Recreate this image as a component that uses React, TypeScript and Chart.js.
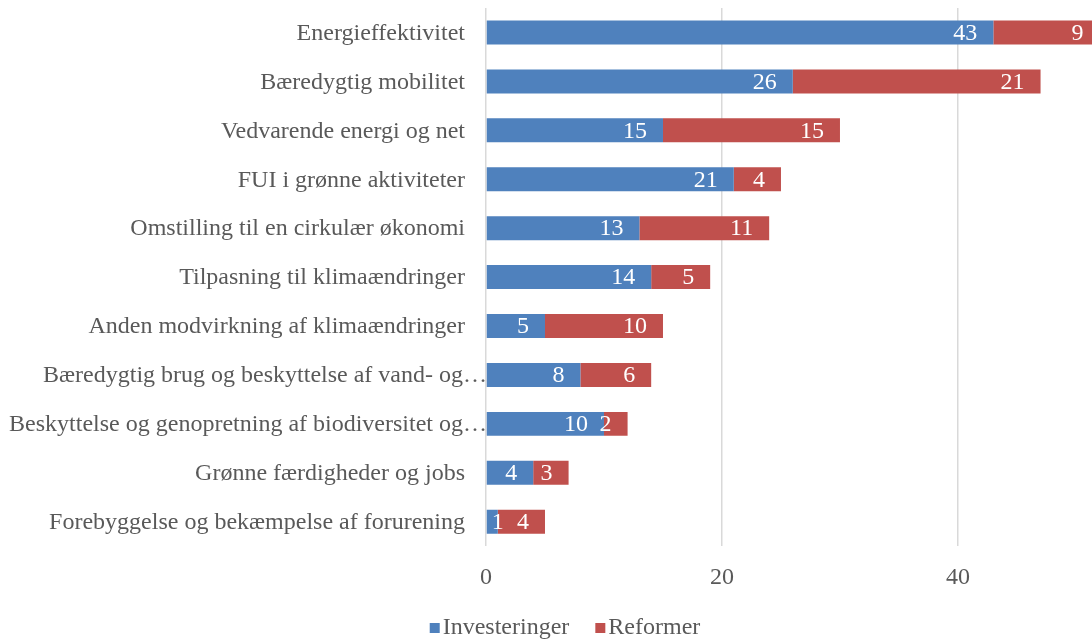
import React, { useEffect, useRef } from "react";
import { Chart, registerables } from "chart.js";

Chart.register(...registerables);

const categories = [
  "Energieffektivitet",
  "Bæredygtig mobilitet",
  "Vedvarende energi og net",
  "FUI i grønne aktiviteter",
  "Omstilling til en cirkulær økonomi",
  "Tilpasning til klimaændringer",
  "Anden modvirkning af klimaændringer",
  "Bæredygtig brug og beskyttelse af vand- og…",
  "Beskyttelse og genopretning af biodiversitet og…",
  "Grønne færdigheder og jobs",
  "Forebyggelse og bekæmpelse af forurening",
];
const investeringer = [43, 26, 15, 21, 13, 14, 5, 8, 10, 4, 1];
const reformer = [9, 21, 15, 4, 11, 5, 10, 6, 2, 3, 4];
const seriesNames = ["Investeringer", "Reformer"];
const seriesColors = ["#4F81BD", "#C0504D"];
const xTicks = [0, 20, 40];

const FONT = "'Liberation Serif', 'Times New Roman', serif";
const GRAY = "#595959";

const yLabelPlugin = {
  id: "yLabels",
  afterDraw(chart: any) {
    const ctx = chart.ctx;
    const y = chart.scales.y;
    const x = chart.scales.x;
    const axisX = x.getPixelForValue(0);
    ctx.save();
    ctx.font = `24px ${FONT}`;
    ctx.fillStyle = GRAY;
    ctx.textAlign = "right";
    ctx.textBaseline = "middle";
    categories.forEach((c, i) => {
      const py = y.getPixelForValue(i);
      const truncated = c.endsWith("…");
      ctx.fillText(c, truncated ? axisX + 1 : axisX - 21, py + 1);
    });
    ctx.restore();
  },
};

const dataLabelPlugin = {
  id: "dataLabels",
  afterDatasetsDraw(chart: any) {
    const ctx = chart.ctx;
    ctx.save();
    ctx.font = `24px ${FONT}`;
    ctx.fillStyle = "#ffffff";
    ctx.textBaseline = "middle";
    ctx.textAlign = "center";
    chart.data.datasets.forEach((ds: any, di: number) => {
      const meta = chart.getDatasetMeta(di);
      meta.data.forEach((el: any, i: number) => {
        const text = String(ds.data[i]);
        const w = ctx.measureText(text).width;
        const end = el.x;
        const start = el.base;
        let cx = end - 16 - w / 2;
        if (cx - w / 2 < start - 8) cx = end;
        ctx.fillText(text, cx, el.y + 1);
      });
    });
    ctx.restore();
  },
};

const legendPlugin = {
  id: "customLegend",
  afterDraw(chart: any) {
    const ctx = chart.ctx;
    ctx.save();
    ctx.font = `24px ${FONT}`;
    ctx.textBaseline = "middle";
    ctx.textAlign = "left";
    const box = 10;
    const gapBoxText = 3;
    const gapItems = 26;
    const widths = seriesNames.map((n) => box + gapBoxText + ctx.measureText(n).width);
    const total = widths.reduce((a, b) => a + b, 0) + gapItems * (seriesNames.length - 1);
    let x = 565 - total / 2;
    const cy = 627;
    seriesNames.forEach((n, i) => {
      ctx.fillStyle = seriesColors[i];
      ctx.fillRect(x, cy - 4, box, box);
      ctx.fillStyle = GRAY;
      ctx.fillText(n, x + box + gapBoxText, cy + 1);
      x += widths[i] + gapItems;
    });
    ctx.restore();
  },
};

export default function App() {
  const ref = useRef<HTMLCanvasElement>(null);
  useEffect(() => {
    document.body.style.margin = "0";
    const chart = new Chart(ref.current!, {
      type: "bar",
      data: {
        labels: categories,
        datasets: seriesNames.map((name, i) => ({
          label: name,
          data: i === 0 ? investeringer : reformer,
          backgroundColor: seriesColors[i],
          borderWidth: 0,
          barPercentage: 0.49,
          categoryPercentage: 1,
        })),
      },
      options: {
        indexAxis: "y",
        responsive: false,
        animation: false,
        layout: { padding: { top: 8, right: 0, left: 0, bottom: 30 } },
        scales: {
          x: {
            stacked: true,
            min: 0,
            max: 51.36,
            afterBuildTicks(scale: any) {
              scale.ticks = xTicks.map((v) => ({ value: v }));
            },
            ticks: {
              includeBounds: false,
              color: GRAY,
              font: { family: FONT, size: 24 },
              padding: 17,
            },
            grid: { color: "#d9d9d9", lineWidth: 1.5, drawTicks: false },
            border: { display: false },
          },
          y: {
            stacked: true,
            ticks: { display: false },
            grid: { display: false },
            border: { display: false },
            afterFit(scale: any) {
              scale.width = 486;
            },
          },
        },
        plugins: {
          legend: { display: false },
          tooltip: { enabled: false },
        },
      },
      plugins: [yLabelPlugin, dataLabelPlugin, legendPlugin],
    } as any);
    return () => chart.destroy();
  }, []);
  return (
    <div style={{ position: "absolute", left: 0, top: 0, width: 1092, height: 639 }}>
      <canvas ref={ref} width={1092} height={639} />
    </div>
  );
}
